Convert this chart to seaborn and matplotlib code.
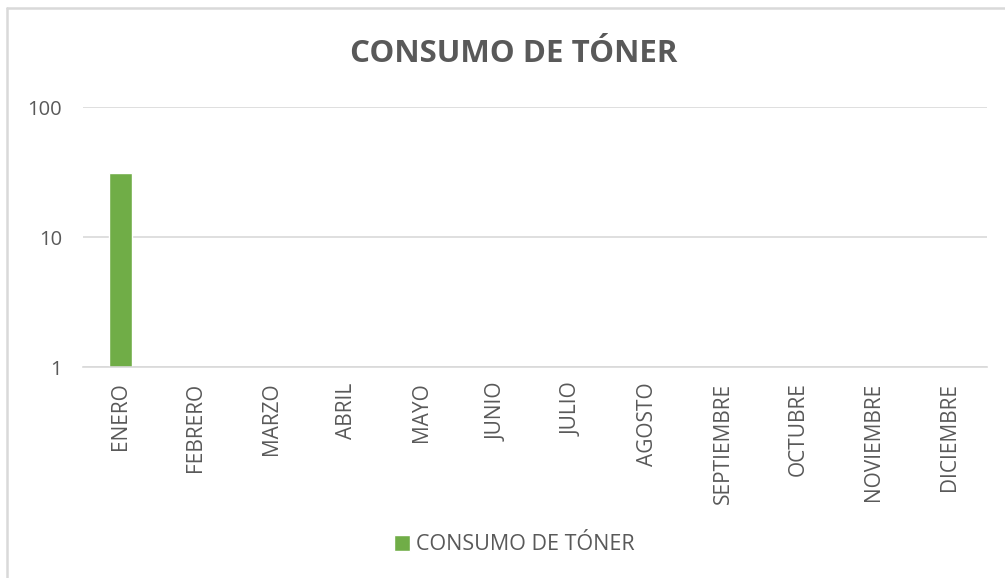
import matplotlib
matplotlib.use("Agg")
import matplotlib.pyplot as plt
import matplotlib.ticker as mticker
from matplotlib.lines import Line2D
import numpy as np
import pandas as pd
import seaborn as sns

# datos
meses = ["ENERO", "FEBRERO", "MARZO", "ABRIL", "MAYO", "JUNIO", "JULIO",
         "AGOSTO", "SEPTIEMBRE", "OCTUBRE", "NOVIEMBRE", "DICIEMBRE"]
consumo = [31.5, np.nan, np.nan, np.nan, np.nan, np.nan, np.nan,
           np.nan, np.nan, np.nan, np.nan, np.nan]
serie = "CONSUMO DE TÓNER"
titulo = "CONSUMO DE TÓNER"
yticks = [1, 10, 100]

gris = "#595959"
verde = "#70ad47"
linea = "#d9d9d9"

sns.set_style("white")
plt.rcParams["font.family"] = ["Open Sans", "DejaVu Sans"]

df = pd.DataFrame({"mes": meses, "consumo": consumo})

fig = plt.figure(figsize=(10.05, 5.78), dpi=100)
ax = fig.add_axes([0.0826, 0.3645, 0.8992, 0.4499])

sns.barplot(data=df, x="mes", y="consumo", order=meses, color=verde,
            saturation=1, width=0.3, label=serie, ax=ax, errorbar=None)

ax.set_yscale("log")
ax.set_ylim(1, 100)
ax.set_yticks(yticks)
ax.yaxis.set_major_formatter(mticker.FuncFormatter(lambda v, p: f"{v:g}"))
ax.yaxis.set_minor_locator(mticker.NullLocator())
ax.set_xlim(-0.5, len(meses) - 0.5)

ax.grid(axis="y", color=linea, linewidth=1.2)
ax.set_axisbelow(True)
for s in ["left", "right", "top"]:
    ax.spines[s].set_visible(False)
ax.spines["bottom"].set_color(linea)
ax.spines["bottom"].set_linewidth(1.2)

ax.tick_params(axis="x", length=0, pad=11, labelsize=15, labelcolor=gris, rotation=90)
ax.tick_params(axis="y", length=0, pad=15, labelsize=14.5, labelcolor=gris)
ax.set_xlabel("")
ax.set_ylabel("")

fig.text(0.511, 1 - 53.5 / 578, titulo, ha="center", va="center",
         fontsize=22.5, fontweight="bold", color=gris)

if ax.get_legend() is not None:
    ax.get_legend().remove()
handles, labels = ax.get_legend_handles_labels()
fig.legend(handles, labels, loc="center", bbox_to_anchor=(0.512, 1 - 545 / 578),
           frameon=False, fontsize=15.5, labelcolor=gris, handlelength=0.7,
           handleheight=0.7, handletextpad=0.3)

# borde del grafico
yb = 1 - 8 / 578
xb = 7 / 1005
fig.add_artist(Line2D([xb, xb], [0, yb], color=linea, linewidth=1.8))
fig.add_artist(Line2D([xb, 1], [yb, yb], color=linea, linewidth=1.8))

fig.savefig("out.png", dpi=100)
